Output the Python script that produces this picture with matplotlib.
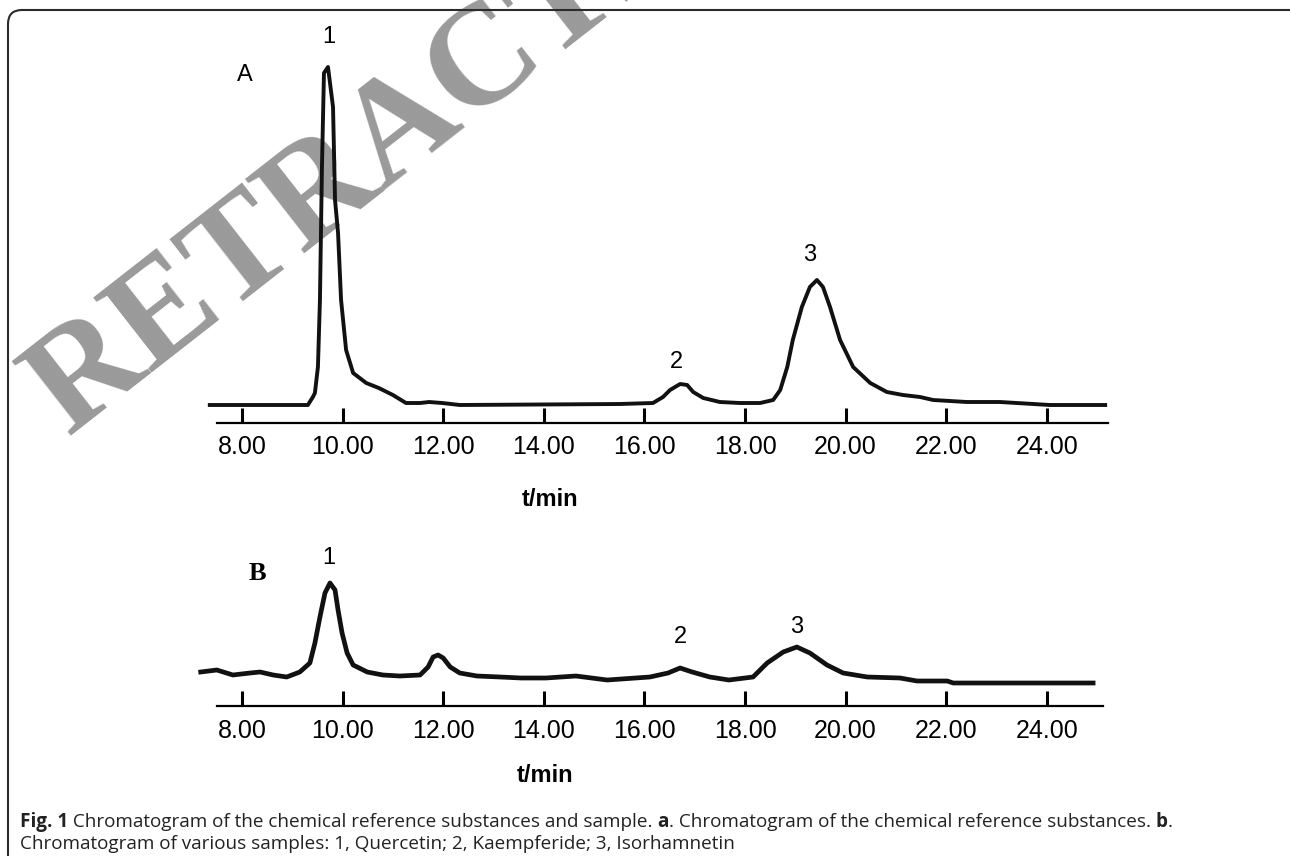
import matplotlib.pyplot as plt
from matplotlib.patches import FancyBboxPatch
from matplotlib.transforms import IdentityTransform

W, H = 1290, 856

# retention time (min) / detector signal
t_a = [7.36, 9.25, 9.31, 9.41, 9.45, 9.51, 9.55, 9.59, 9.63, 9.71, 9.81, 9.85,
       9.91, 9.97, 10.07, 10.21, 10.47, 10.72, 11.00, 11.26, 11.54, 11.72,
       11.98, 12.33, 15.51, 16.17, 16.37, 16.51, 16.71, 16.85, 16.97, 17.17,
       17.50, 17.90, 18.30, 18.56, 18.70, 18.84, 18.95, 19.13, 19.29, 19.43,
       19.55, 19.69, 19.89, 20.15, 20.49, 20.82, 21.14, 21.48, 21.74, 22.41,
       23.07, 23.73, 24.06, 25.16]
sig_a = [0, 0, 0, 8, 12, 38, 105, 238, 332, 338, 298, 205,
         172, 105, 55, 32, 22, 17, 10, 2, 2, 3,
         2, 0, 1, 2, 8, 15, 21, 20, 13, 7,
         3, 2, 2, 5, 15, 38, 65, 98, 118, 125,
         118, 98, 65, 38, 22, 13, 10, 8, 5, 3,
         3, 1, 0, 0]

t_b = [7.18, 7.50, 7.82, 8.16, 8.36, 8.62, 8.89, 9.15, 9.35, 9.45, 9.55, 9.65,
       9.75, 9.85, 9.91, 9.99, 10.09, 10.21, 10.49, 10.80, 11.14, 11.54, 11.70,
       11.80, 11.90, 12.00, 12.14, 12.33, 12.67, 13.13, 13.55, 14.04, 14.64,
       15.26, 16.11, 16.47, 16.71, 16.95, 17.30, 17.68, 18.16, 18.44, 18.76,
       19.03, 19.29, 19.63, 19.95, 20.43, 21.08, 21.42, 22.02, 22.14, 23.47,
       24.92]
sig_b = [13, 15, 10, 12, 13, 10, 8, 13, 22, 42, 68, 92,
         102, 95, 75, 52, 32, 20, 13, 10, 9, 10, 18,
         28, 30, 27, 18, 12, 9, 8, 7, 7, 9,
         5, 8, 12, 17, 13, 8, 5, 8, 22, 33,
         38, 32, 20, 12, 8, 7, 4, 4, 2, 2,
         2]

tick_vals = [8, 10, 12, 14, 16, 18, 20, 22, 24]
tick_labels = ["8.00", "10.00", "12.00", "14.00", "16.00", "18.00",
               "20.00", "22.00", "24.00"]

peak_names = ["1", "2", "3"]
peak_t_a = [9.73, 16.63, 19.29]
peak_y_a = [368, 43, 150]
peak_t_b = [9.73, 16.71, 19.03]
peak_y_b = [127, 48, 58]

caption_1 = [("Fig. 1", "bold"),
             (" Chromatogram of the chemical reference substances and sample. ", "normal"),
             ("a", "bold"),
             (". Chromatogram of the chemical reference substances. ", "normal"),
             ("b", "bold"), (".", "normal")]
caption_2 = "Chromatogram of various samples: 1, Quercetin; 2, Kaempferide; 3, Isorhamnetin"

SANS = "Liberation Sans"


def px_axes(fig, left, top, right, bottom):
    return fig.add_axes([left / W, 1 - bottom / H, (right - left) / W, (bottom - top) / H])


def style_axis(ax, xmax):
    ax.set_xlim(7.1, 25.25)
    for s in ["left", "top", "right"]:
        ax.spines[s].set_visible(False)
    ax.spines["bottom"].set_linewidth(1.6)
    ax.spines["bottom"].set_bounds(7.5, xmax)
    ax.set_yticks([])
    ax.set_xticks(tick_vals)
    ax.set_xticklabels(tick_labels, fontsize=18, family=SANS)
    ax.tick_params(axis="x", direction="in", length=11, width=2.2, pad=9)
    ax.patch.set_alpha(0)


fig = plt.figure(figsize=(W / 100, H / 100), dpi=100)

# frame round the whole figure
fig.patches.append(FancyBboxPatch((8, -20), 1300, 856 - 10 + 20,
                                  boxstyle="round,pad=0,rounding_size=14",
                                  transform=IdentityTransform(), fill=False,
                                  ec="#2b2b2b", lw=1.5))

# watermark, under the traces
fig.text(404 / W, 1 - 130 / H, "RETRACTED", rotation=38, rotation_mode="anchor",
         ha="center", va="center", fontsize=104, fontweight="bold",
         family="Liberation Serif", color="#9a9a9a", zorder=-1)

# panel A
axA = px_axes(fig, 196.7, 55, 1109.7, 423)
axA.plot(t_a, sig_a, color="#111111", lw=2.8, solid_joinstyle="round", clip_on=False)
axA.set_ylim(-18, 350)
style_axis(axA, 25.22)
for n, t, y in zip(peak_names, peak_t_a, peak_y_a):
    axA.text(t, y, n, ha="center", va="center", fontsize=17, family=SANS)
fig.text(245 / W, 1 - 75 / H, "A", ha="center", va="center", fontsize=17, family=SANS)
fig.text(550 / W, 1 - 499 / H, "t/min", ha="center", va="center", fontsize=17,
         fontweight="bold", family=SANS)

# panel B
axB = px_axes(fig, 196.7, 560, 1109.7, 706)
axB.plot(t_b, sig_b, color="#111111", lw=3.4, solid_joinstyle="round", clip_on=False)
axB.set_ylim(-21, 125)
style_axis(axB, 25.12)
for n, t, y in zip(peak_names, peak_t_b, peak_y_b):
    axB.text(t, y, n, ha="center", va="center", fontsize=17, family=SANS)
fig.text(257 / W, 1 - 574 / H, "B", ha="center", va="center", fontsize=19,
         fontweight="bold", family="Liberation Serif")
fig.text(545 / W, 1 - 776 / H, "t/min", ha="center", va="center", fontsize=17,
         fontweight="bold", family=SANS)

# caption, built piece by piece so bold parts sit inline
renderer = fig.canvas.get_renderer()
x = 20
for txt, wt in caption_1:
    t = fig.text(x / W, 1 - 822 / H, txt, ha="left", va="center", fontsize=13.6,
                 fontweight=wt, family="Open Sans", color="#222222")
    x += t.get_window_extent(renderer).width
fig.text(20 / W, 1 - 844 / H, caption_2, ha="left", va="center", fontsize=13.6,
         family="Open Sans", color="#222222")

fig.savefig("out.png", dpi=100)
